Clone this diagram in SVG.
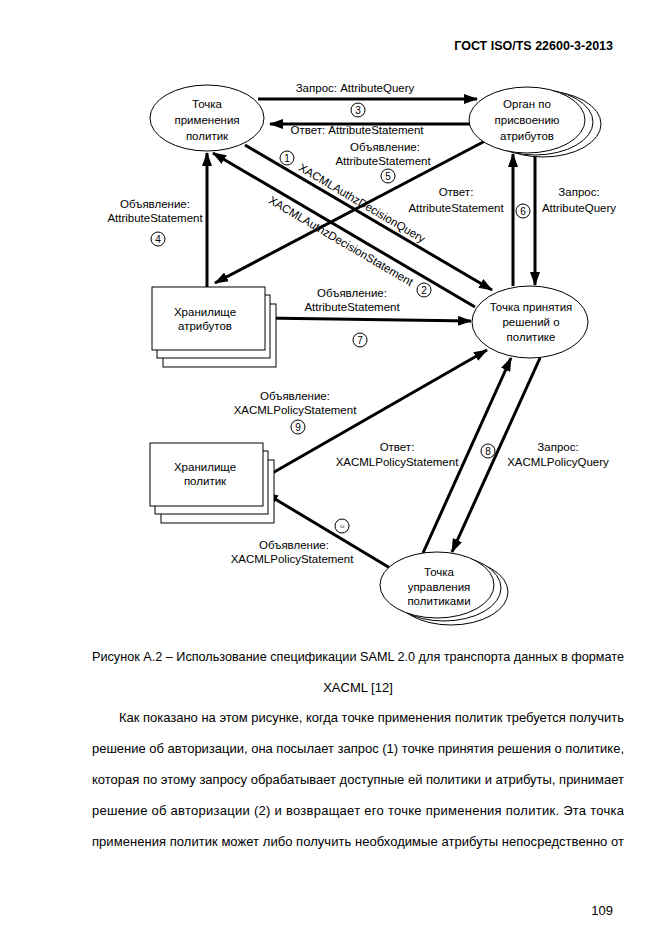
<svg xmlns="http://www.w3.org/2000/svg" width="661" height="935" viewBox="0 0 661 935">
<defs>
<style>
.t{font-family:"Liberation Sans",Arial,sans-serif;font-size:11.5px;fill:#000;text-anchor:middle}
.n{font-family:"Liberation Sans",Arial,sans-serif;font-size:10px;fill:#000;text-anchor:middle}
.s{font-family:"Liberation Sans",Arial,sans-serif;font-size:4px;fill:#000;text-anchor:middle}
.b{font-family:"Liberation Sans",Arial,sans-serif;font-size:13px;fill:#000}
.sh{fill:#fff;stroke:#000;stroke-width:1}
.c{stroke:#000;stroke-width:3;fill:none;marker-end:url(#ah)}
.num{fill:#fff;stroke:#000;stroke-width:1}
</style>
<marker id="ah" viewBox="0 0 14 10" refX="13" refY="5" markerWidth="14" markerHeight="10" orient="auto" markerUnits="userSpaceOnUse"><path d="M0,0 L14,5 L0,10 z" fill="#000"/></marker>
</defs>
<rect width="661" height="935" fill="#fff"/>
<text class="b" x="613" y="50" text-anchor="end" font-weight="bold" style="font-size:12.5px">ГОСТ ISO/TS 22600-3-2013</text>

<g id="connectors">
<line class="c" x1="258" y1="99" x2="477" y2="99"/>
<line class="c" x1="470" y1="124" x2="270" y2="124"/>
<line class="c" x1="245" y1="145" x2="492" y2="290"/>
<line class="c" x1="475" y1="307" x2="213" y2="153"/>
<line class="c" x1="207" y1="287" x2="207" y2="153"/>
<line class="c" x1="485" y1="141" x2="215" y2="283"/>
<line class="c" x1="513" y1="286" x2="513" y2="154"/>
<line class="c" x1="535" y1="153" x2="535" y2="285"/>
<line class="c" x1="263" y1="318" x2="471" y2="321"/>
<line class="c" x1="262" y1="479" x2="487" y2="350"/>
<line class="c" x1="423" y1="553" x2="511" y2="358"/>
<line class="c" x1="540" y1="358" x2="452" y2="552"/>
<line class="c" x1="390" y1="568" x2="265" y2="493"/>
</g>

<g id="labels">
<text class="t" x="355" y="92">Запрос: AttributeQuery</text>
<circle class="num" cx="358" cy="110" r="7"/><text class="n" x="358" y="114">3</text>
<text class="t" x="357" y="134">Ответ: AttributeStatement</text>
<text class="t" x="385" y="151">Объявление:</text>
<text class="t" x="383" y="165">AttributeStatement</text>
<circle class="num" cx="388" cy="176" r="7"/><text class="n" x="388" y="180">5</text>
<circle class="num" cx="287" cy="158" r="7"/><text class="n" x="287" y="162">1</text>
<text class="t" transform="translate(362,203) rotate(30.5)" y="4">XACMLAuthzDecisionQuery</text>
<text class="t" transform="translate(341,241) rotate(30.5)" y="4">XACMLAuthzDecisionStatement</text>
<circle class="num" cx="424" cy="290" r="7"/><text class="n" x="424" y="294">2</text>
<text class="t" x="155" y="208">Объявление:</text>
<text class="t" x="155" y="222">AttributeStatement</text>
<circle class="num" cx="158" cy="239" r="7"/><text class="n" x="158" y="243">4</text>
<text class="t" x="456" y="196">Ответ:</text>
<text class="t" x="456" y="212">AttributeStatement</text>
<circle class="num" cx="523" cy="211" r="7"/><text class="n" x="523" y="215">6</text>
<text class="t" x="579" y="196">Запрос:</text>
<text class="t" x="579" y="212">AttributeQuery</text>
<text class="t" x="352" y="297">Объявление:</text>
<text class="t" x="352" y="311">AttributeStatement</text>
<circle class="num" cx="360" cy="340" r="7"/><text class="n" x="360" y="344">7</text>
<text class="t" x="295" y="400">Объявление:</text>
<text class="t" x="295" y="414">XACMLPolicyStatement</text>
<circle class="num" cx="298" cy="427" r="7"/><text class="n" x="298" y="431">9</text>
<text class="t" x="397" y="451">Ответ:</text>
<text class="t" x="397" y="466">XACMLPolicyStatement</text>
<circle class="num" cx="488" cy="451" r="7"/><text class="n" x="488" y="455">8</text>
<text class="t" x="558" y="451">Запрос:</text>
<text class="t" x="558" y="466">XACMLPolicyQuery</text>
<circle class="num" cx="342" cy="526" r="7"/><text class="s" x="342" y="527.5">10</text>
<text class="t" x="294" y="549">Объявление:</text>
<text class="t" x="292" y="563">XACMLPolicyStatement</text>
</g>

<g id="pep">
<ellipse class="sh" cx="207" cy="118" rx="57" ry="33"/>
<text class="t" x="207" y="108">Точка</text>
<text class="t" x="207" y="124">применения</text>
<text class="t" x="207" y="140">политик</text>
</g>

<g id="aa">
<ellipse class="sh" cx="543" cy="124" rx="58" ry="33"/>
<ellipse class="sh" cx="535" cy="122" rx="58" ry="33"/>
<ellipse class="sh" cx="527" cy="120" rx="58" ry="33"/>
<text class="t" x="527" y="108">Орган по</text>
<text class="t" x="527" y="124">присвоению</text>
<text class="t" x="527" y="140">атрибутов</text>
</g>

<g id="pdp">
<ellipse class="sh" cx="530" cy="322" rx="58" ry="36"/>
<text class="t" x="531" y="311">Точка принятия</text>
<text class="t" x="531" y="326">решений о</text>
<text class="t" x="531" y="341">политике</text>
</g>

<g id="attr-store">
<rect class="sh" x="163" y="304" width="113" height="63"/>
<rect class="sh" x="157" y="295" width="113" height="63"/>
<rect class="sh" x="152" y="287" width="113" height="63"/>
<text class="t" x="205" y="316">Хранилище</text>
<text class="t" x="205" y="330">атрибутов</text>
</g>

<g id="policy-store">
<rect class="sh" x="161" y="460" width="113" height="63"/>
<rect class="sh" x="155" y="451" width="113" height="63"/>
<rect class="sh" x="150" y="443" width="113" height="63"/>
<text class="t" x="205" y="471">Хранилище</text>
<text class="t" x="205" y="485">политик</text>
</g>

<g id="pap">
<ellipse class="sh" cx="451" cy="592" rx="57" ry="33"/>
<ellipse class="sh" cx="444" cy="588" rx="57" ry="33"/>
<ellipse class="sh" cx="437" cy="585" rx="57" ry="33"/>
<text class="t" x="439" y="576">Точка</text>
<text class="t" x="439" y="591">управления</text>
<text class="t" x="439" y="605">политиками</text>
</g>

<g id="caption">
<text class="b" x="358" y="661" text-anchor="middle" textLength="532" lengthAdjust="spacingAndGlyphs">Рисунок А.2 – Использование спецификации SAML 2.0 для транспорта данных в формате</text>
<text class="b" x="358" y="692" text-anchor="middle">XACML [12]</text>
</g>
<g id="body">
<text class="b" x="119" y="722" textLength="505" lengthAdjust="spacing">Как показано на этом рисунке, когда точке применения политик требуется получить</text>
<text class="b" x="92" y="753" textLength="532" lengthAdjust="spacing">решение об авторизации, она посылает запрос (1) точке принятия решения о политике,</text>
<text class="b" x="92" y="784" textLength="532" lengthAdjust="spacing">которая по этому запросу обрабатывает доступные ей политики и атрибуты, принимает</text>
<text class="b" x="92" y="815" textLength="532" lengthAdjust="spacing">решение об авторизации (2) и возвращает его точке применения политик. Эта точка</text>
<text class="b" x="92" y="846" textLength="532" lengthAdjust="spacing">применения политик может либо получить необходимые атрибуты непосредственно от</text>
<text class="b" x="613" y="915" text-anchor="end">109</text>
</g>
</svg>
